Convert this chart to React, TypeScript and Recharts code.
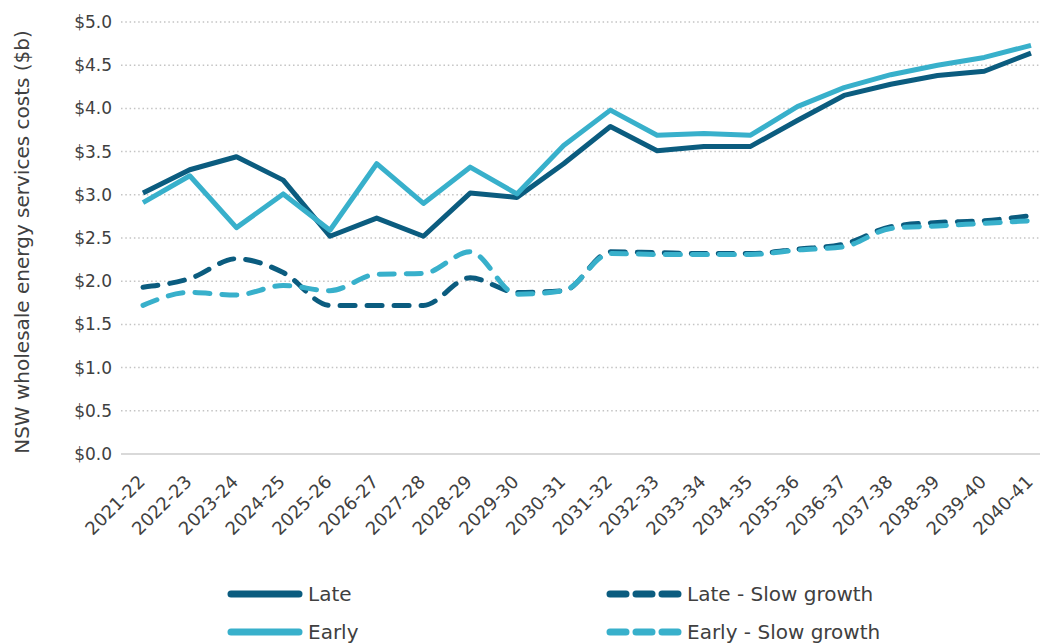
import React from 'react';
import { LineChart, Line, XAxis, YAxis, CartesianGrid } from 'recharts';

const years = ['2021-22','2022-23','2023-24','2024-25','2025-26','2026-27','2027-28','2028-29','2029-30','2030-31','2031-32','2032-33','2033-34','2034-35','2035-36','2036-37','2037-38','2038-39','2039-40','2040-41'];
const late = [3.02,3.29,3.44,3.17,2.52,2.73,2.52,3.02,2.97,3.36,3.79,3.51,3.56,3.56,3.86,4.15,4.28,4.38,4.43,4.64];
const early = [2.91,3.22,2.62,3.01,2.59,3.36,2.90,3.32,3.01,3.57,3.98,3.69,3.71,3.69,4.02,4.24,4.39,4.50,4.59,4.73];
const lateSlow = [1.93,2.03,2.26,2.10,1.72,1.72,1.72,2.04,1.87,1.89,2.34,2.33,2.32,2.32,2.37,2.43,2.63,2.68,2.70,2.76];
const earlySlow = [1.72,1.87,1.84,1.95,1.89,2.08,2.09,2.34,1.85,1.89,2.32,2.31,2.31,2.31,2.36,2.40,2.61,2.64,2.67,2.70];
const yTicks = [0,0.5,1,1.5,2,2.5,3,3.5,4,4.5,5];
const yTitle = 'NSW wholesale energy services costs ($b)';

const DARK = '#0b5c7f';
const LIGHT = '#38b0cb';
const TEXT = '#404040';
const FONT = '"DejaVu Sans", sans-serif';

const series = [
  { key: 'late', name: 'Late', color: DARK, dashed: false },
  { key: 'lateSlow', name: 'Late - Slow growth', color: DARK, dashed: true },
  { key: 'early', name: 'Early', color: LIGHT, dashed: false },
  { key: 'earlySlow', name: 'Early - Slow growth', color: LIGHT, dashed: true },
];

const data = years.map((y, i) => ({
  year: y,
  late: late[i],
  early: early[i],
  lateSlow: lateSlow[i],
  earlySlow: earlySlow[i],
}));

const XTick = (props: any) => {
  const { x, y, payload } = props;
  return (
    <text
      transform={`translate(${x + 3},${y + 21}) rotate(-45)`}
      textAnchor="end"
      fontSize={18}
      fontFamily={FONT}
      fill={TEXT}
    >
      {payload.value}
    </text>
  );
};

const YTitle = () => (
  <text
    transform="translate(29,242) rotate(-90)"
    textAnchor="middle"
    fontSize={20}
    fontFamily={FONT}
    fill={TEXT}
  >
    {yTitle}
  </text>
);

const legendPos = [
  { x: 228, y: 594 },
  { x: 607, y: 594 },
  { x: 228, y: 632 },
  { x: 607, y: 632 },
];

export default function App() {
  return (
    <div style={{ position: 'absolute', left: 0, top: 0, width: 1040, height: 644, overflow: 'hidden', background: '#fff' }}>
      <LineChart width={1060} height={644} data={data} margin={{ top: 22, right: 0, left: 0, bottom: 0 }}>
        <CartesianGrid vertical={false} stroke="#c4c4c4" strokeWidth={1.5} strokeDasharray="1.5 2.8" />
        <XAxis
          dataKey="year"
          height={190}
          interval={0}
          tickLine={false}
          axisLine={{ stroke: '#d9d9d9', strokeWidth: 2 }}
          padding={{ left: 22, right: 29 }}
          tick={<XTick />}
        />
        <YAxis
          width={121}
          domain={[0, 5]}
          ticks={yTicks}
          axisLine={false}
          tickLine={false}
          tickMargin={3}
          tickFormatter={(v: number) => `$${v.toFixed(1)}`}
          tick={{ fontSize: 17, fontFamily: FONT, fill: TEXT }}
          label={<YTitle />}
        />
        {series.map((s) => (
          <Line
            key={s.key}
            dataKey={s.key}
            name={s.name}
            type={s.dashed ? 'monotone' : 'linear'}
            stroke={s.color}
            strokeWidth={5}
            strokeDasharray={s.dashed ? '15 12' : undefined}
            strokeLinecap={s.dashed ? 'round' : 'butt'}
            strokeLinejoin="round"
            dot={false}
            activeDot={false}
            isAnimationActive={false}
          />
        ))}
      </LineChart>
      <svg width={1040} height={644} style={{ position: 'absolute', left: 0, top: 0, pointerEvents: 'none' }}>
        {series.map((s, i) => {
          const p = legendPos[i];
          return (
            <g key={s.key}>
              <line
                x1={p.x + 3}
                x2={p.x + 71}
                y1={p.y}
                y2={p.y}
                stroke={s.color}
                strokeWidth={7}
                strokeLinecap="round"
                strokeDasharray={s.dashed ? '16 10' : undefined}
              />
              <text x={p.x + 80} y={p.y + 7} fontSize={20} fontFamily={FONT} fill={TEXT}>
                {s.name}
              </text>
            </g>
          );
        })}
      </svg>
    </div>
  );
}
